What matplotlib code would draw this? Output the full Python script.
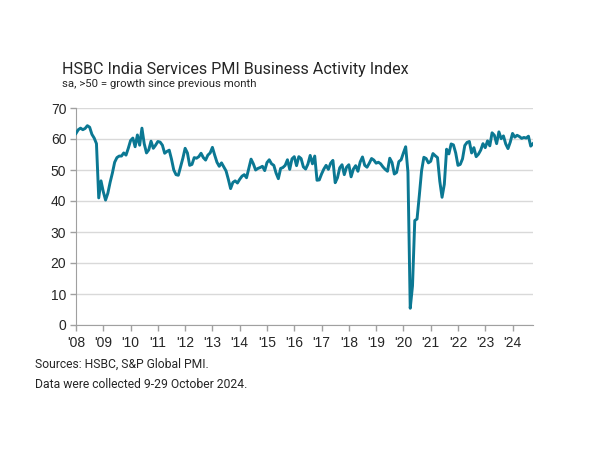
import numpy as np
import matplotlib
matplotlib.use("Agg")
import matplotlib.pyplot as plt

# monthly index values, Jan 2008 .. Oct 2024
pmi_2008 = [61.8, 63.0, 63.5, 63.0, 63.4, 64.3, 63.8, 61.5, 60.3, 58.5, 41.0, 46.5]
pmi_2009 = [43.0, 40.3, 42.5, 46.0, 49.0, 52.5, 54.0, 54.5, 54.5, 55.5, 54.8, 57.0]
pmi_2010 = [59.5, 60.3, 57.5, 61.3, 58.0, 63.5, 58.5, 55.5, 56.5, 59.3, 57.0, 58.0]
pmi_2011 = [59.2, 59.0, 58.0, 55.4, 56.0, 56.4, 53.5, 50.0, 48.5, 48.3, 51.0, 53.8]
pmi_2012 = [57.0, 55.5, 51.5, 51.8, 54.0, 53.8, 54.3, 55.4, 54.0, 53.2, 54.8, 55.5]
pmi_2013 = [57.3, 54.8, 52.5, 51.2, 52.3, 51.0, 49.7, 47.0, 44.0, 46.0, 46.5, 45.8]
pmi_2014 = [47.0, 48.0, 48.5, 47.5, 50.5, 53.5, 52.0, 50.0, 50.5, 50.8, 51.2, 49.8]
pmi_2015 = [52.4, 53.3, 52.0, 51.5, 49.0, 47.2, 50.5, 50.8, 51.5, 53.3, 50.2, 53.6]
pmi_2016 = [54.3, 51.4, 54.3, 53.7, 51.0, 50.3, 51.9, 54.7, 52.0, 54.5, 46.7, 46.8]
pmi_2017 = [48.7, 50.3, 51.5, 50.2, 52.2, 53.1, 45.9, 47.5, 50.7, 51.7, 48.5, 50.9]
pmi_2018 = [51.7, 47.8, 50.3, 51.4, 49.6, 52.6, 54.2, 51.5, 50.9, 52.2, 53.7, 53.2]
pmi_2019 = [52.2, 52.5, 52.0, 51.0, 50.2, 49.6, 53.8, 52.4, 48.7, 49.2, 52.7, 53.3]
pmi_2020 = [55.5, 57.5, 49.3, 5.4, 12.6, 33.7, 34.2, 41.8, 49.8, 54.1, 53.7, 52.3]
pmi_2021 = [52.8, 55.3, 54.6, 54.0, 46.4, 41.2, 45.4, 56.7, 55.2, 58.4, 58.1, 55.5]
pmi_2022 = [51.5, 51.8, 53.6, 57.9, 58.9, 59.2, 55.5, 57.2, 54.3, 55.1, 56.4, 58.5]
pmi_2023 = [57.2, 59.4, 57.8, 62.0, 61.2, 58.5, 62.3, 60.1, 61.0, 58.4, 56.9, 59.0]
pmi_2024 = [61.8, 60.6, 61.2, 60.8, 60.2, 60.5, 60.3, 60.9, 57.7, 58.5]

years = list(range(2008, 2025))
year_labels = ["'" + str(y)[2:] for y in years]
y_ticks = [0, 10, 20, 30, 40, 50, 60, 70]

values = (pmi_2008 + pmi_2009 + pmi_2010 + pmi_2011 + pmi_2012 + pmi_2013
          + pmi_2014 + pmi_2015 + pmi_2016 + pmi_2017 + pmi_2018 + pmi_2019
          + pmi_2020 + pmi_2021 + pmi_2022 + pmi_2023 + pmi_2024)
dates = 2008 + np.arange(len(values)) / 12.0

LINE = "#0b7893"
GRID = "#d9d9d9"
AXIS = "#a0a0a0"
TEXT = "#262626"

plt.rcParams["font.family"] = ["Liberation Sans", "DejaVu Sans"]

fig = plt.figure(figsize=(6, 4.5), dpi=100)
ax = fig.add_axes([76 / 600, 1 - 325 / 450, (533 - 76) / 600, (325 - 108) / 450])

ax.plot(dates, values, color=LINE, linewidth=2.1, solid_joinstyle="round", zorder=3)

ax.set_xlim(2008, dates[-1])
ax.set_ylim(0, 70)
ax.set_yticks(y_ticks)
ax.set_xticks(years)
ax.set_xticklabels(year_labels)

ax.grid(axis="y", color=GRID, linewidth=1.0)
ax.set_axisbelow(True)
for s in ["top", "right"]:
    ax.spines[s].set_visible(False)
ax.spines["left"].set_color(AXIS)
ax.spines["bottom"].set_color(AXIS)
ax.tick_params(axis="both", colors=AXIS, labelcolor=TEXT, labelsize=10, length=4, width=1)
ax.tick_params(axis="x", pad=4)
ax.tick_params(axis="y", pad=3)

fig.text(62 / 600, 1 - 74 / 450, "HSBC India Services PMI Business Activity Index",
         fontsize=11.6, color=TEXT, family=["Roboto", "DejaVu Sans"], va="baseline")
fig.text(62 / 600, 1 - 87 / 450, "sa, >50 = growth since previous month",
         fontsize=8.2, color=TEXT, family=["Roboto", "DejaVu Sans"], va="baseline")
fig.text(35 / 600, 1 - 368 / 450, "Sources: HSBC, S&P Global PMI.",
         fontsize=8.7, color=TEXT, family=["Roboto", "DejaVu Sans"], va="baseline")
fig.text(35 / 600, 1 - 388 / 450, "Data were collected 9-29 October 2024.",
         fontsize=8.7, color=TEXT, family=["Roboto", "DejaVu Sans"], va="baseline")

fig.savefig("out.png", dpi=100)
